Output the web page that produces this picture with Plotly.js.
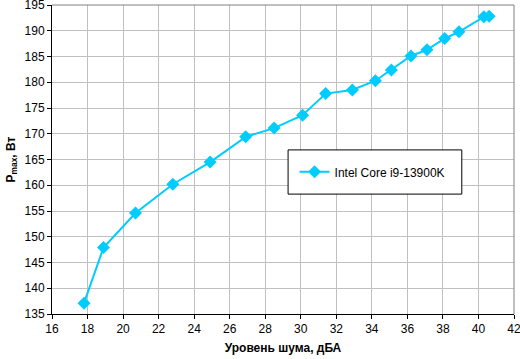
<!DOCTYPE html>
<html><head><meta charset="utf-8">
<script src="https://cdn.plot.ly/plotly-3.0.1.min.js"></script>
<style>html,body{margin:0;padding:0;background:#fff}#c{width:520px;height:359px}</style>
</head><body><div id="c"></div>
<script>
const noise = [17.8, 18.9, 20.7, 22.8, 24.9, 26.9, 28.5, 30.1, 31.4, 32.9, 34.2, 35.1, 36.2, 37.1, 38.1, 38.9, 40.3, 40.6];
const power = [137.1, 147.9, 154.6, 160.2, 164.5, 169.4, 171.1, 173.6, 177.8, 178.5, 180.3, 182.4, 185.1, 186.3, 188.5, 189.8, 192.7, 192.8];
const seriesName = "Intel Core i9-13900K";
const xTitle = "Уровень шума, дБА";
const yTitle = "P<sub>max</sub>, Вт";

const fnt = {family: "Liberation Sans, Arial, sans-serif", size: 12, color: "#000"};
const trace = {
  x: noise, y: power, name: seriesName, type: "scatter", mode: "lines+markers",
  line: {color: "#00ccff", width: 2},
  marker: {symbol: "diamond", size: 10, color: "#00ccff"}
};
const layout = {
  width: 520, height: 359,
  margin: {l: 52, r: 6, t: 5, b: 45},
  paper_bgcolor: "#fff", plot_bgcolor: "#fff",
  font: fnt,
  showlegend: true,
  legend: {x: 0.525, y: 0.46, xanchor: "left", yanchor: "middle", bgcolor: "rgba(0,0,0,0)", borderwidth: 0, font: fnt},
  xaxis: {
    range: [16, 42], dtick: 2, tick0: 16, showgrid: true, gridcolor: "#c0c0c0", gridwidth: 1,
    showline: true, linecolor: "#000", linewidth: 1, mirror: false,
    ticks: "outside", ticklen: 4, tickcolor: "#000", zeroline: false,
    tickfont: fnt, ticklabeloverflow: "allow",
    title: {text: xTitle, font: {family: fnt.family, size: 12, color: "#000", weight: "bold"}, standoff: 8}
  },
  yaxis: {
    range: [135, 195], dtick: 5, tick0: 135, showgrid: true, gridcolor: "#c0c0c0", gridwidth: 1,
    showline: true, linecolor: "#000", linewidth: 1, mirror: false,
    ticks: "outside", ticklen: 4, tickcolor: "#000", zeroline: false,
    tickfont: fnt, ticklabeloverflow: "allow",
    title: {text: yTitle, font: {family: fnt.family, size: 12, color: "#000", weight: "bold"}, standoff: 6}
  },
  shapes: [
    {type: "line", xref: "paper", yref: "paper", x0: 0, x1: 1, y0: 1, y1: 1, line: {color: "#808080", width: 1}},
    {type: "line", xref: "paper", yref: "paper", x0: 1, x1: 1, y0: 0, y1: 1, line: {color: "#808080", width: 1}},
    {type: "rect", xref: "paper", yref: "paper", x0: 0.511, x1: 0.887, y0: 0.388, y1: 0.531, line: {color: "#000", width: 1}, fillcolor: "#fff", layer: "above"}
  ]
};
Plotly.newPlot("c", [trace], layout, {displayModeBar: false, staticPlot: true});
</script></body></html>
